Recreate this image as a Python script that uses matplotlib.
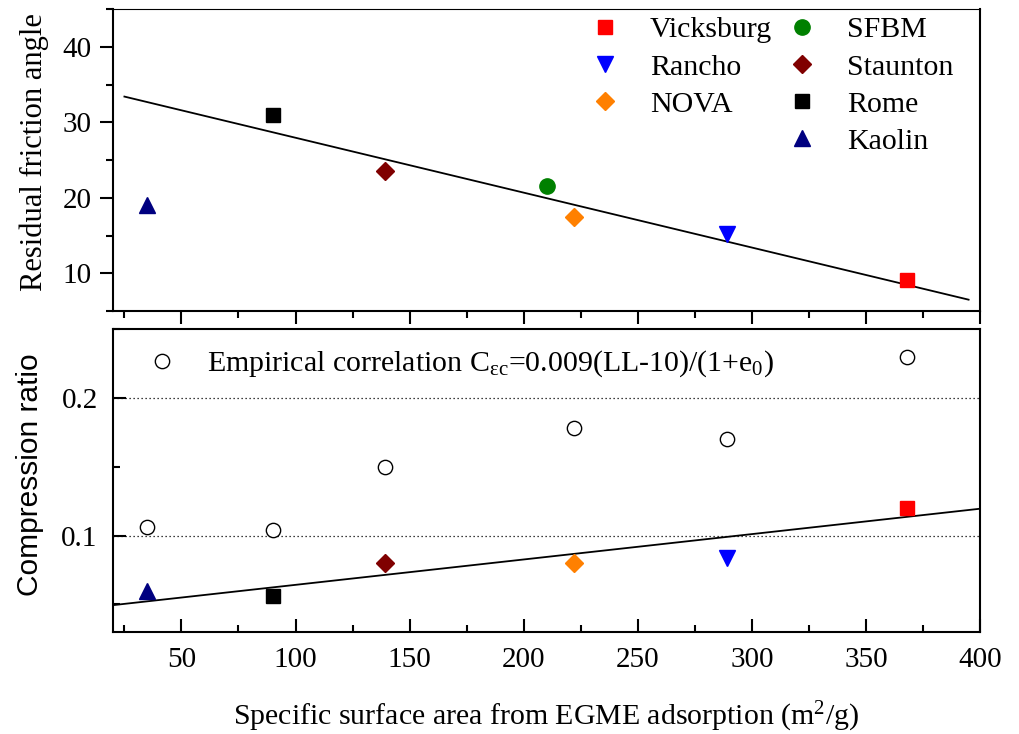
import numpy as np
import matplotlib
matplotlib.use("Agg")
import matplotlib.pyplot as plt
from matplotlib.ticker import MultipleLocator
from matplotlib.lines import Line2D

plt.rcParams['font.family'] = ['Liberation Serif', 'DejaVu Serif']
plt.rcParams['mathtext.fontset'] = 'custom'
plt.rcParams['mathtext.rm'] = 'Liberation Serif'
plt.rcParams['mathtext.it'] = 'Liberation Serif:italic'

# Soils and their specific surface area (m2/g)
soils = ["Vicksburg", "Rancho", "NOVA", "SFBM", "Staunton", "Rome", "Kaolin"]
ssa = [368, 289, 222, 210, 139, 90, 35]
# Residual friction angle (deg)
friction = [9.1, 15.2, 17.5, 21.6, 23.6, 31.0, 19.0]
# Measured compression ratio (no SFBM)
comp_soils = ["Vicksburg", "Rancho", "NOVA", "Staunton", "Rome", "Kaolin"]
comp_ssa = [368, 289, 222, 139, 90, 35]
comp_ratio = [0.120, 0.084, 0.080, 0.080, 0.056, 0.060]
# Empirical correlation values
emp_ssa = [35, 90, 139, 222, 289, 368]
emp_ratio = [0.106, 0.104, 0.150, 0.178, 0.170, 0.230]
# Linear fits
fit1_x = [25, 395]
fit1_y = [33.4, 6.5]
fit2_x = [20, 400]
fit2_y = [0.0495, 0.1195]

styles = {
    "Vicksburg": ("s", "#FF0000", 10),
    "Rancho": ("v", "#0000FF", 12),
    "NOVA": ("D", "#FF8000", 9.5),
    "SFBM": ("o", "#008000", 11),
    "Staunton": ("D", "#800000", 9.5),
    "Rome": ("s", "#000000", 10),
    "Kaolin": ("^", "#000080", 12),
}

FS = 21
W, H = 1019, 734
fig = plt.figure(figsize=(W / 100, H / 100), dpi=100)
left, right = 113 / W, 980 / W
ax1 = fig.add_axes([left, 1 - 311 / H, right - left, 302 / H])
ax2 = fig.add_axes([left, 1 - 632 / H, right - left, 303 / H])

# ---- top panel: residual friction angle
ax1.plot(fit1_x, fit1_y, color="black", lw=1.3, zorder=2)
handles = {}
for s, x, y in zip(soils, ssa, friction):
    m, c, ms = styles[s]
    h, = ax1.plot([x], [y], linestyle="none", marker=m, color=c, ms=ms,
                  mec=c, label=s, zorder=3)
    handles[s] = h

# blank entry so the first column holds three soils, the second four
blank = Line2D([], [], linestyle="none", marker="none")
order = ["Vicksburg", "Rancho", "NOVA", None, "SFBM", "Staunton", "Rome", "Kaolin"]
leg_h = [handles[s] if s else blank for s in order]
leg_l = [s if s else "" for s in order]
ax1.legend(leg_h, leg_l, ncol=2, loc="upper left", frameon=False,
           bbox_to_anchor=(0.533, 0.975), borderaxespad=0, borderpad=0,
           handlelength=2.0, handletextpad=0.5, columnspacing=0.02,
           labelspacing=0.34, fontsize=21.5)

ax1.set_xlim(20, 400)
ax1.set_ylim(5, 45)
ax1.yaxis.set_major_locator(MultipleLocator(10))
ax1.yaxis.set_minor_locator(MultipleLocator(5))
ax1.xaxis.set_major_locator(MultipleLocator(50))
ax1.xaxis.set_minor_locator(MultipleLocator(25))
ax1.set_yticks([10, 20, 30, 40])
ax1.tick_params(axis="both", which="both", direction="out", width=1.5,
                labelsize=FS, labelbottom=False)
ax1.tick_params(which="major", length=9.5, pad=6)
ax1.tick_params(which="minor", length=5)
for sp in ax1.spines.values():
    sp.set_linewidth(1.5)
ax1.spines["top"].set_linewidth(0.8)
ax1.set_ylabel("Residual friction angle", fontsize=22, va="center")
ax1.yaxis.set_label_coords(-0.091, 0.525)

# ---- bottom panel: compression ratio
for yv in [0.1, 0.2]:
    ax2.axhline(yv, color="black", lw=0.9, linestyle=(0, (1, 2.2)), zorder=1)
ax2.plot(fit2_x, fit2_y, color="black", lw=1.3, zorder=2)
emp, = ax2.plot(emp_ssa, emp_ratio, linestyle="none", marker="o", ms=10.3,
                mfc="white", mec="black", mew=1.0, zorder=3,
                label=r"Empirical correlation C$_{\mathrm{εc}}$=0.009(LL-10)/(1+e$_0$)")
for s, x, y in zip(comp_soils, comp_ssa, comp_ratio):
    m, c, ms = styles[s]
    ax2.plot([x], [y], linestyle="none", marker=m, color=c, ms=ms, mec=c,
             zorder=3)
ax2.legend(handles=[emp], loc="upper left", frameon=False,
           bbox_to_anchor=(0.0226, 0.935), borderaxespad=0, borderpad=0,
           handlelength=2.0, handletextpad=0.5, fontsize=21.5)

ax2.set_xlim(20, 400)
ax2.set_ylim(0.03, 0.25)
ax2.set_yticks([0.1, 0.2])
ax2.set_yticklabels(["0.1", "0.2"])
ax2.yaxis.set_minor_locator(MultipleLocator(0.05))
ax2.xaxis.set_major_locator(MultipleLocator(50))
ax2.xaxis.set_minor_locator(MultipleLocator(25))
ax2.set_xticks([50, 100, 150, 200, 250, 300, 350, 400])
ax2.tick_params(axis="both", which="both", direction="in", width=1.5,
                labelsize=FS)
ax2.tick_params(which="major", length=9.5, pad=11)
ax2.tick_params(which="minor", length=5)
for sp in ax2.spines.values():
    sp.set_linewidth(1.5)
ax2.set_ylabel("Compression ratio", fontsize=21.5, va="center",
               family=["Liberation Sans", "DejaVu Sans"])
ax2.yaxis.set_label_coords(-0.0957, 0.518)
ax2.set_xlabel(r"Specific surface area from EGME adsorption (m$^2$/g)",
               fontsize=21.5, va="baseline")
ax2.xaxis.set_label_coords(0.5, -0.307)

fig.savefig("out.png", dpi=100)
